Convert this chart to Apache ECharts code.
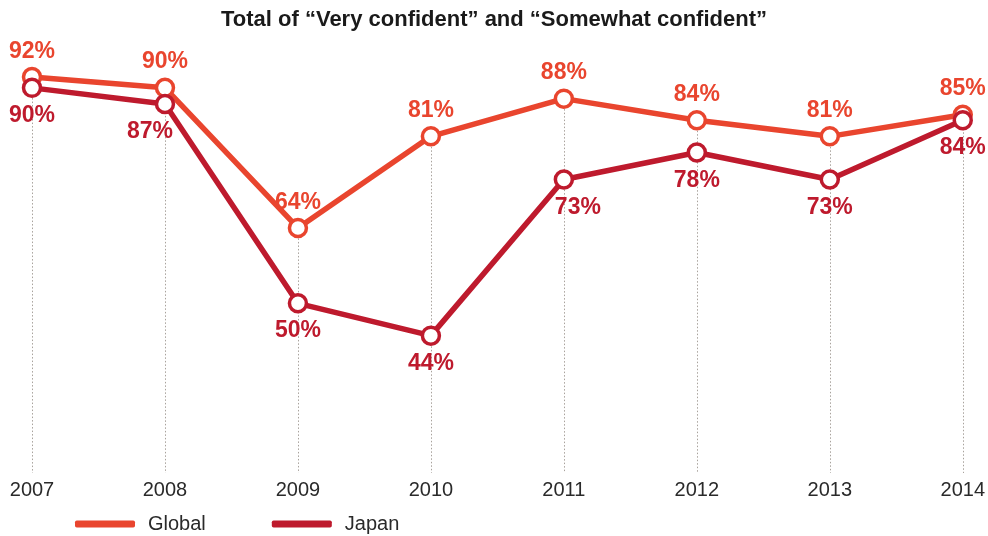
<!DOCTYPE html>
<html><head><meta charset="utf-8">
<script src="https://cdn.jsdelivr.net/npm/echarts@6/dist/echarts.min.js"></script>
<style>html,body{margin:0;padding:0;background:#fff}#c{width:988px;height:536px}</style>
</head><body><div id="c"></div>
<script>
const years = ['2007','2008','2009','2010','2011','2012','2013','2014'];
const globalVals = [92, 90, 64, 81, 88, 84, 81, 85];
const japanVals = [90, 87, 50, 44, 73, 78, 73, 84];
const titleText = 'Total of \u201cVery confident\u201d and \u201cSomewhat confident\u201d';
const cGlobal = '#E9452E', cJapan = '#BE1A2D';
const yMin = 18.5, yMax = 100;

// label nudges (styling only)
const japanLabelNudge = {1: -15, 4: 14};

const guideData = years.map((y, i) => [
  {coord: [i, Math.max(globalVals[i], japanVals[i])]},
  {coord: [i, yMin]}
]);

function mk(name, vals, color, pos, nudge) {
  return {
    name, type: 'line', z: 3,
    data: vals.map((v, i) => nudge && nudge[i] ? {value: v, label: {offset: [nudge[i], 0]}} : v),
    symbol: 'circle', symbolSize: 17, showSymbol: true,
    itemStyle: {color: '#fff', borderColor: color, borderWidth: 3.5},
    lineStyle: {color, width: 5.5},
    label: {show: true, position: pos, distance: pos === 'top' ? 4 : 6,
      formatter: '{c}%', color, fontFamily: 'Liberation Sans, Arial', fontWeight: 'bold', fontSize: 23},
    emphasis: {disabled: true}
  };
}

const chart = echarts.init(document.getElementById('c'));
chart.setOption({
  animation: false,
  title: {text: titleText, left: 'center', top: 4,
    textStyle: {fontFamily: 'Liberation Sans, Arial', fontWeight: 'bold', fontSize: 22, color: '#1a1a1a'}},
  grid: {left: 32, right: 22, top: 34, bottom: 63},
  xAxis: {type: 'category', data: years, boundaryGap: false,
    axisLine: {show: false}, axisTick: {show: false}, splitLine: {show: false},
    axisLabel: {margin: 7, fontFamily: 'Liberation Sans, Arial', fontSize: 20, color: '#2a2a2a'}},
  yAxis: {type: 'value', min: yMin, max: yMax, show: false, splitLine: {show: false}},
  legend: {data: [
      {name: 'Global', itemStyle: {color: cGlobal, borderWidth: 0}},
      {name: 'Japan', itemStyle: {color: cJapan, borderWidth: 0}}],
    left: 70, top: 509, icon: 'roundRect', itemWidth: 60, itemHeight: 7, itemGap: 66,
    textStyle: {fontFamily: 'Liberation Sans, Arial', fontSize: 20, color: '#2a2a2a', padding: [0,0,0,8]}},
  series: [
    {name: 'guides', type: 'line', data: [], z: 1, silent: true,
      markLine: {silent: true, z: 1, symbol: 'none', animation: false, label: {show: false},
        lineStyle: {type: [1.5, 2], color: '#a8a29c', width: 1}, data: guideData}},
    mk('Global', globalVals, cGlobal, 'top'),
    mk('Japan', japanVals, cJapan, 'bottom', japanLabelNudge)
  ]
});
</script></body></html>
